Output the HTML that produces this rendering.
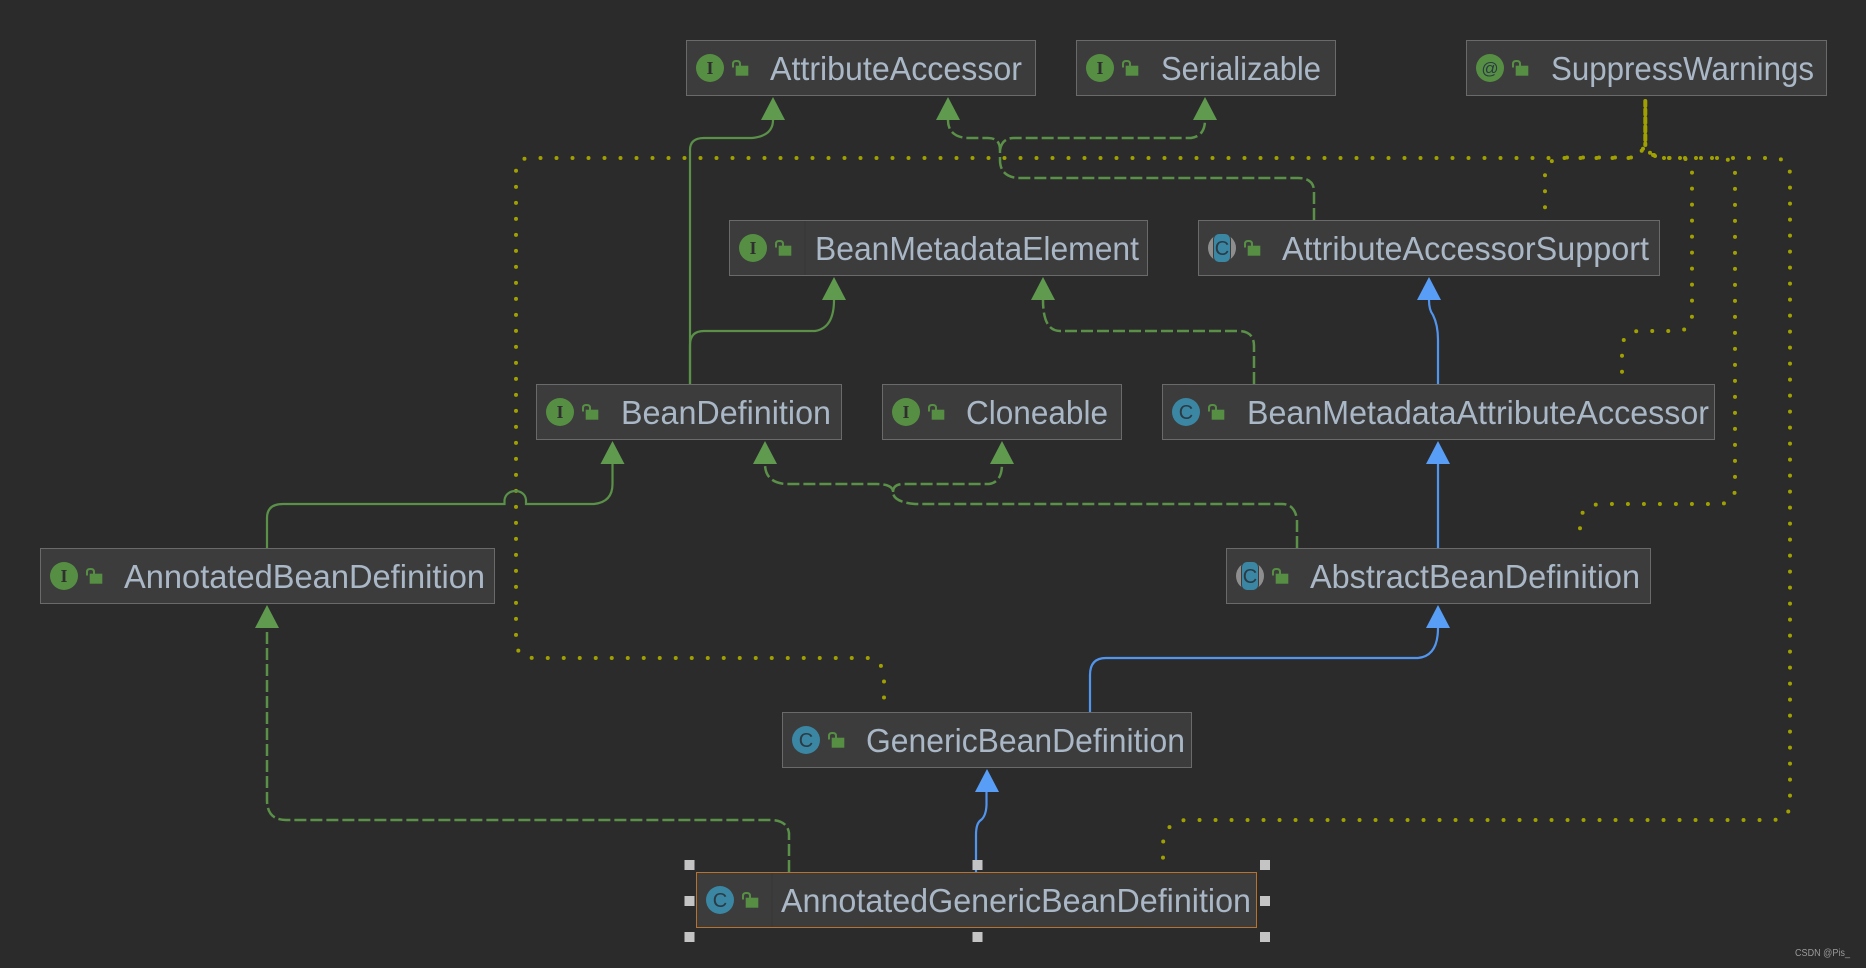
<!DOCTYPE html>
<html><head><meta charset="utf-8"><style>
html,body{margin:0;padding:0;background:#2b2b2b}
svg{display:block}
text{font-family:"Liberation Sans",sans-serif}
.t{font-size:33px;fill:#a9b7c6}
.ic{font-size:18px;fill:#2f2f2f;text-anchor:middle;font-weight:bold;font-family:"Liberation Serif",serif}
.ic2{font-size:20px;fill:#2b3a44;text-anchor:middle}
.g{fill:none;stroke:#5a9048;stroke-width:2.2}
.gd{fill:none;stroke:#5a9048;stroke-width:2.5;stroke-dasharray:12 4}
.b{fill:none;stroke:#5295ee;stroke-width:2.2}
.d{fill:none;stroke:#a0a000;stroke-width:4;stroke-linecap:round;stroke-dasharray:0 16}
.ga{fill:#5f9a4f}.ba{fill:#589df6}
.box{fill:#3c3c3c;stroke:#6a6a6a;stroke-width:1}
.h{fill:#c4c4c4}
</style></head><body>
<svg width="1866" height="968" viewBox="0 0 1866 968" xmlns="http://www.w3.org/2000/svg">
<defs>
<g id="lock"><path d="M47 27.5V24Q47 21 50 21H51Q54 21 54 24V26" fill="none" stroke="#568f43" stroke-width="2"/><rect x="49.7" y="25.7" width="12.6" height="10" fill="#568f43"/></g>
<g id="ci"><circle cx="24" cy="28" r="14" fill="#568f43"/></g>
<g id="cc"><circle cx="24" cy="28" r="14" fill="#3a86a3"/></g>
<g id="ca"><circle cx="24" cy="28" r="14" fill="#8e8e8e"/><rect x="15" y="14" width="18" height="28" rx="5" fill="#3c3c3c"/><rect x="16" y="14" width="16" height="28" rx="5" fill="#3a86a3"/></g>
</defs>
<rect width="1866" height="968" fill="#2b2b2b"/>

<!-- dotted -->
<path class="d" d="M1628.5 158H530Q516 158 516 172V640Q516 658 534 658H868Q884 660 884 680V704"/>
<path class="d" d="M1631 157.500H1562Q1548 158 1545 175V208"/>
<path class="d" d="M1654 155L1664 158H1680Q1692 158 1692 172V315Q1692 331 1676 331H1640Q1622 331 1622 350V372"/>
<path class="d" d="M1664 158H1718Q1735 158 1735 172V488Q1735 504 1718 504H1600Q1582 506 1580 520V536"/>
<path class="d" d="M1669 158H1772Q1790 158 1790 175V802Q1790 820 1772 820H1186Q1166 821 1163 843V860"/>
<path d="M1645.300 101V145" fill="none" stroke="#a0a000" stroke-width="4" stroke-linecap="round" stroke-dasharray="5 3.500"/>
<g fill="#a0a000"><circle cx="1643" cy="148.700" r="2"/><circle cx="1641.700" cy="150.700" r="2"/><circle cx="1650" cy="152.700" r="2"/><circle cx="1653" cy="155" r="2"/><circle cx="1655" cy="156" r="2"/></g>

<!-- green solid -->
<path class="g" d="M690 384V150Q690 138 704 138H752Q773 136 773 120"/>
<path class="g" d="M690 384V345Q690 331 704 331H815Q834 328 834 300"/>
<path class="g" d="M267 548V518Q267 504 283 504H504.5V500C506 488 525 488 526 500V504H594Q612.5 502 612.5 484V464"/>
<!-- green dashed -->
<path class="gd" d="M1314 220V190Q1313 178 1298 178H1017Q1000 176 1000 160V150Q1000 138 988 138H966Q948 136 948 120"/>
<path class="gd" d="M1000 150Q1002 138 1014 138H1191Q1205 136 1205 120"/>
<path class="gd" d="M1254 384V346Q1254 331 1238 331H1060Q1043 331 1043 300"/>
<path class="gd" d="M1297 548V520Q1295 504 1282 504H915Q893 502 893 492Q893 484 876 484H785Q765 482 765 464"/>
<path class="gd" d="M893 492Q893 484 904 484H989Q1002 482 1002 464"/>
<path class="gd" d="M789 872V833Q787 820 770 820H286Q267 820 267 800V628"/>
<!-- blue -->
<path class="b" d="M1438 384V340Q1438 325 1433 315Q1429 310 1429 300"/>
<path class="b" d="M1438 548V464"/>
<path class="b" d="M1090 712V675Q1090 658 1106 658H1418Q1438 656 1438 628"/>
<path class="b" d="M976 872V835Q976 823 981 820Q986 816 986.5 805V792"/>

<!-- arrows -->
<path class="ga" d="M773 97L761 120H785Z"/>
<path class="ga" d="M948 97L936 120H960Z"/>
<path class="ga" d="M1205 97L1193 120H1217Z"/>
<path class="ga" d="M834 277L822 300H846Z"/>
<path class="ga" d="M1043 277L1031 300H1055Z"/>
<path class="ba" d="M1429 277L1417 300H1441Z"/>
<path class="ga" d="M612.5 441L600.5 464H624.5Z"/>
<path class="ga" d="M765 441L753 464H777Z"/>
<path class="ga" d="M1002 441L990 464H1014Z"/>
<path class="ba" d="M1438 441L1426 464H1450Z"/>
<path class="ga" d="M267 605L255 628H279Z"/>
<path class="ba" d="M1438 605L1426 628H1450Z"/>
<path class="ba" d="M987 769L975 792H999Z"/>

<!-- nodes -->
<g transform="translate(686,40)"><rect class="box" x=".5" y=".5" width="349" height="55"/><use href="#ci"/><text class="ic" x="24" y="34">I</text><use href="#lock"/></g>
<text class="t" x="770" y="80" textLength="252" lengthAdjust="spacingAndGlyphs">AttributeAccessor</text>

<g transform="translate(1076,40)"><rect class="box" x=".5" y=".5" width="259" height="55"/><use href="#ci"/><text class="ic" x="24" y="34">I</text><use href="#lock"/></g>
<text class="t" x="1161" y="80" textLength="160" lengthAdjust="spacingAndGlyphs">Serializable</text>

<g transform="translate(1466,40)"><rect class="box" x=".5" y=".5" width="360" height="55"/><use href="#ci"/><text class="ic2" x="24" y="34" style="font-size:17px">@</text><use href="#lock"/></g>
<text class="t" x="1551" y="80" textLength="263" lengthAdjust="spacingAndGlyphs">SuppressWarnings</text>

<g transform="translate(729,220)"><rect class="box" x=".5" y=".5" width="418" height="55"/><path d="M76 1V55" stroke="#363636" stroke-width="1"/><use href="#ci"/><text class="ic" x="24" y="34">I</text><use href="#lock"/></g>
<text class="t" x="815" y="260" textLength="324" lengthAdjust="spacingAndGlyphs">BeanMetadataElement</text>

<g transform="translate(1198,220)"><rect class="box" x=".5" y=".5" width="461" height="55"/><use href="#ca"/><text class="ic2" x="24" y="35">C</text><use href="#lock"/></g>
<text class="t" x="1282" y="260" textLength="367" lengthAdjust="spacingAndGlyphs">AttributeAccessorSupport</text>

<g transform="translate(536,384)"><rect class="box" x=".5" y=".5" width="305" height="55"/><use href="#ci"/><text class="ic" x="24" y="34">I</text><use href="#lock"/></g>
<text class="t" x="621" y="424" textLength="210" lengthAdjust="spacingAndGlyphs">BeanDefinition</text>

<g transform="translate(882,384)"><rect class="box" x=".5" y=".5" width="239" height="55"/><use href="#ci"/><text class="ic" x="24" y="34">I</text><use href="#lock"/></g>
<text class="t" x="966" y="424" textLength="142" lengthAdjust="spacingAndGlyphs">Cloneable</text>

<g transform="translate(1162,384)"><rect class="box" x=".5" y=".5" width="552" height="55"/><use href="#cc"/><text class="ic2" x="24" y="35">C</text><use href="#lock"/></g>
<text class="t" x="1247" y="424" textLength="462" lengthAdjust="spacingAndGlyphs">BeanMetadataAttributeAccessor</text>

<g transform="translate(40,548)"><rect class="box" x=".5" y=".5" width="454" height="55"/><use href="#ci"/><text class="ic" x="24" y="34">I</text><use href="#lock"/></g>
<text class="t" x="124" y="588" textLength="361" lengthAdjust="spacingAndGlyphs">AnnotatedBeanDefinition</text>

<g transform="translate(1226,548)"><rect class="box" x=".5" y=".5" width="424" height="55"/><use href="#ca"/><text class="ic2" x="24" y="35">C</text><use href="#lock"/></g>
<text class="t" x="1310" y="588" textLength="330" lengthAdjust="spacingAndGlyphs">AbstractBeanDefinition</text>

<g transform="translate(782,712)"><rect class="box" x=".5" y=".5" width="409" height="55"/><use href="#cc"/><text class="ic2" x="24" y="35">C</text><use href="#lock"/></g>
<text class="t" x="866" y="752" textLength="319" lengthAdjust="spacingAndGlyphs">GenericBeanDefinition</text>

<g transform="translate(696,872)"><rect x=".5" y=".5" width="560" height="55" fill="#3c3c3c" stroke="#b8722f" stroke-width="1"/><path d="M76 1V55" stroke="#363636" stroke-width="1"/><use href="#cc"/><text class="ic2" x="24" y="35">C</text><use href="#lock"/></g>
<text class="t" x="781" y="912" textLength="470" lengthAdjust="spacingAndGlyphs">AnnotatedGenericBeanDefinition</text>

<!-- handles -->
<rect class="h" x="684.5" y="860" width="10" height="10"/><rect class="h" x="972.5" y="860" width="10" height="10"/><rect class="h" x="1260" y="860" width="10" height="10"/>
<rect class="h" x="684.5" y="896" width="10" height="10"/><rect class="h" x="1260" y="896" width="10" height="10"/>
<rect class="h" x="684.5" y="932" width="10" height="10"/><rect class="h" x="972.5" y="932" width="10" height="10"/><rect class="h" x="1260" y="932" width="10" height="10"/>

<text x="1795" y="956" style="font-size:10px" fill="#9a9a9a" textLength="55" lengthAdjust="spacingAndGlyphs">CSDN @Pis_</text>
</svg>
</body></html>
